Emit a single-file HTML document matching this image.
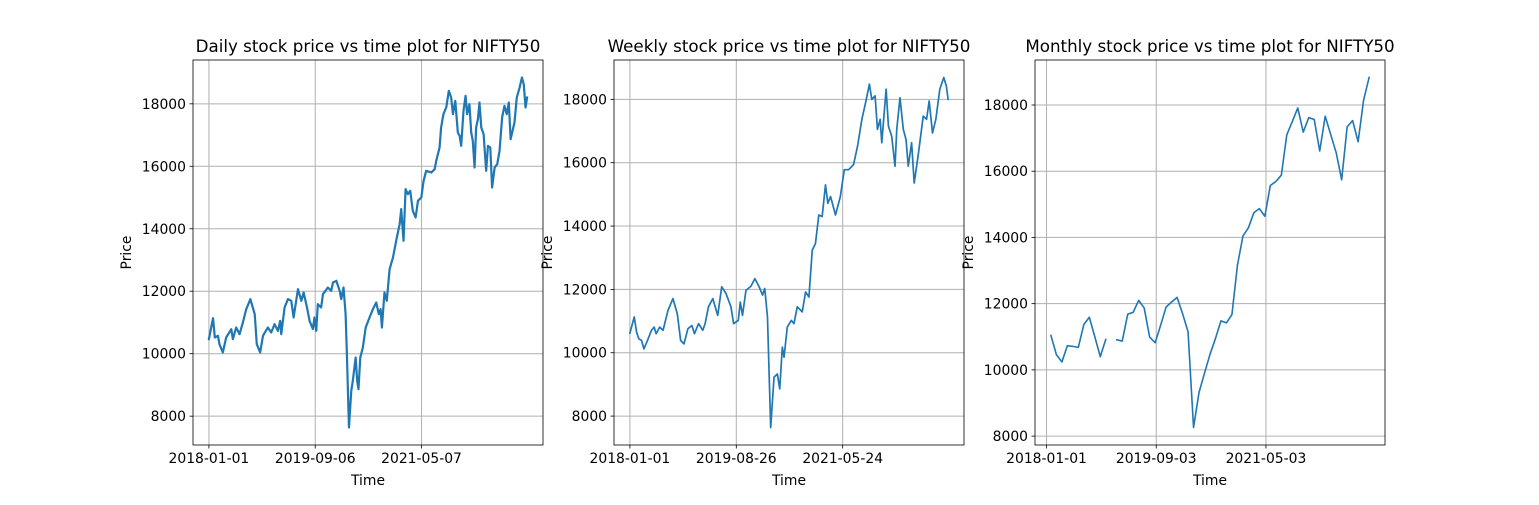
<!DOCTYPE html>
<html><head><meta charset="utf-8"><style>
body{margin:0;background:#fff}
svg text{font-family:"DejaVu Sans","Liberation Sans",sans-serif;fill:#000}
</style></head><body>
<svg id="fig" width="1539" height="500" xmlns="http://www.w3.org/2000/svg"></svg>
<script>
// Daily: trading-day index and price
const dailyDays=[0,16,23,35,41,54,67,87,93,106,119,132,145,161,178,186,199,210,229,242,255,268,277,281,294,307,320,329,346,359,368,381,391,404,410,417,423,436,443,462,475,482,495,508,514,523,531,536,544,553,559,570,576,581,588,598,609,624,637,650,660,667,672,682,691,702,715,725,730,741,747,756,764,773,782,792,803,812,825,834,844,864,877,883,896,902,911,922,932,941,948,957,967,974,980,989,997,1003,1012,1019,1025,1032,1038,1045,1051,1058,1067,1077,1084,1093,1100,1110,1120,1129,1139,1148,1157,1165,1172,1178,1187,1196,1207,1216,1223,1230,1236];
const dailyPrice=[10466,11138,10519,10572,10305,10038,10519,10786,10466,10839,10626,11000,11426,11746,11266,10305,10038,10572,10839,10679,10946,10732,11053,10626,11480,11746,11693,11160,12066,11693,11960,11480,11053,10786,11160,10732,11586,11480,11906,12120,12013,12280,12333,12013,11746,12120,11266,9985,7637,8811,9131,9878,9131,8865,9878,10199,10839,11160,11426,11640,11266,11426,10839,11960,11693,12707,13080,13507,13720,14147,14628,13614,15268,15108,15215,14574,14361,14894,15001,15535,15855,15802,15908,16175,16602,17242,17669,17883,18416,18203,17669,18096,17082,16975,16655,17776,18256,17669,17989,17082,16815,15962,17242,17509,18043,17242,17029,15855,16655,16602,15321,15962,16068,16495,17562,17936,17669,18043,16869,17082,17402,18203,18523,18843,18630,17883,18203];
const dailyTickPos=[0,413,826];
const dailyTickLabels=["2018-01-01","2019-09-06","2021-05-07"];
// Weekly
const weeklyIdx=[0,3.5,5.4,7.2,9.4,11.3,14.2,17.4,19.6,21.2,24.1,26.8,30.8,34.8,38.3,41,43.7,46.9,50.1,52.2,55.5,58.9,60.8,63.5,67,71,74.2,77.7,81.7,83.8,87.6,89.2,91,93.8,97.8,101,104.5,107.2,109,111.2,113.8,116.5,119.2,121.1,123.2,124.6,127.2,130.5,132.6,135.3,139.3,142,144.7,147.4,150,152.7,155.4,158.1,160,162.2,166.2,170.1,173.3,176.8,180.8,184,187.5,190.2,193.6,195.5,198.2,200.1,202.3,203.6,207.1,209,211.6,214.3,215.7,218.3,221,223.2,225,227.7,229.8,233.1,237.1,239.8,241.9,244.6,247.3,250.5,253.7,255.8,257.2];
const weeklyPrice=[10620,11130,10650,10440,10390,10120,10390,10710,10810,10600,10810,10710,11340,11710,11230,10390,10280,10760,10860,10600,10920,10710,10920,11450,11710,11180,12080,11870,11450,10920,11020,11600,11180,11970,12100,12340,12080,11820,12030,11130,7640,9230,9330,8860,10180,9860,10810,11020,10920,11450,11290,11920,11760,13240,13450,14350,14300,15300,14720,14930,14350,14930,15780,15780,15940,16520,17370,17840,18480,18000,18110,17050,17370,16630,18320,17150,16840,15890,17050,18050,17050,16730,15890,16630,15360,16260,17470,17370,17950,16940,17370,18320,18690,18420,18000];
const weeklyTickPos=[0,86,172];
const weeklyTickLabels=["2018-01-01","2019-08-26","2021-05-24"];
// Monthly (null = missing month)
const monthlyPrice=[11040,10460,10240,10730,10710,10680,11370,11590,11000,10400,10920,null,10910,10870,11680,11740,12100,11870,10990,10820,11350,11900,12050,12190,11700,11150,8260,9320,9900,10470,10950,11480,11420,11670,13160,14040,14290,14750,14870,14640,15570,15690,15880,17100,17500,17910,17180,17620,17560,16610,17660,17110,16560,15740,17340,17530,16890,18150,18830];
const monthlyTickPos=[0,20,40];
const monthlyTickLabels=["2018-01-01","2019-09-03","2021-05-03"];
const yTicks=[8000,10000,12000,14000,16000,18000];

const NS="http://www.w3.org/2000/svg";
const fig=document.getElementById('fig');
function mk(tag,attrs,parent,text){const e=document.createElementNS(NS,tag);for(const k in attrs)e.setAttribute(k,attrs[k]);if(text!==undefined)e.textContent=text;(parent||fig).appendChild(e);return e;}

function panel(key,left,title,xs,ys,tickPos,tickLabels,lw){
  const top=60,w=350,h=385,bottom=top+h;
  const g=mk('g',{});
  
  
  const vx=xs.filter((v,i)=>ys[i]!==null), vy=ys.filter(v=>v!==null);
  const xmin=Math.min(...vx),xmax=Math.max(...vx),ymin=Math.min(...vy),ymax=Math.max(...vy);
  const xm=(xmax-xmin)*0.05,ym=(ymax-ymin)*0.05;
  const X=v=>left+(v-(xmin-xm))/((xmax+xm)-(xmin-xm))*w;
  const Y=v=>bottom-(v-(ymin-ym))/((ymax+ym)-(ymin-ym))*h;
  tickPos.forEach((t,i)=>{
    const x=X(t);
    const gl=mk('line',{x1:x,x2:x,y1:top,y2:bottom,stroke:'#b0b0b0','stroke-width':1},g);
    
    
    mk('line',{x1:x,x2:x,y1:bottom,y2:bottom+3.5,stroke:'#000','stroke-width':0.8},g);
    const tl=mk('text',{x:x,y:bottom+18,'font-size':13.9,'text-anchor':'middle'},g,tickLabels[i]);
    
    
  });
  yTicks.forEach(t=>{
    const y=Y(t);
    if(y<top||y>bottom)return;
    const gl=mk('line',{x1:left,x2:left+w,y1:y,y2:y,stroke:'#b0b0b0','stroke-width':1},g);
    
    
    mk('line',{x1:left-3.5,x2:left,y1:y,y2:y,stroke:'#000','stroke-width':0.8},g);
    const tl=mk('text',{x:left-7,y:y+5,'font-size':13.9,'text-anchor':'end'},g,String(t));
    
    
  });
  let d='',pen=false;
  xs.forEach((x,i)=>{
    if(ys[i]===null){pen=false;return;}
    d+=(pen?'L':'M')+X(x).toFixed(2)+','+Y(ys[i]).toFixed(2);pen=true;
  });
  const p=mk('path',{d:d,fill:'none',stroke:'#1f77b4','stroke-width':lw,'stroke-linejoin':'round','stroke-linecap':'square'},g);
  
  
  const fr=mk('rect',{x:left,y:top,width:w,height:h,fill:'none',stroke:'#000','stroke-width':0.8},g);
  
  
  const tt=mk('text',{x:left+w/2,y:52,'font-size':16.7,'text-anchor':'middle'},g,title);
  
  
  const xl=mk('text',{x:left+w/2,y:485,'font-size':13.9,'text-anchor':'middle'},g,'Time');
  
  
  const yl=mk('text',{x:0,y:0,'font-size':13.9,'text-anchor':'middle',transform:'translate('+(left-62)+','+(top+h/2)+') rotate(-90)'},g,'Price');
  
  
}
const monthlyIdx=monthlyPrice.map((v,i)=>i+0.8);
panel('daily',193,'Daily stock price vs time plot for NIFTY50',dailyDays,dailyPrice,dailyTickPos,dailyTickLabels,2.2);
panel('weekly',614,'Weekly stock price vs time plot for NIFTY50',weeklyIdx,weeklyPrice,weeklyTickPos,weeklyTickLabels,1.7);
panel('monthly',1035,'Monthly stock price vs time plot for NIFTY50',monthlyIdx,monthlyPrice,monthlyTickPos,monthlyTickLabels,1.6);
</script>
</body></html>
